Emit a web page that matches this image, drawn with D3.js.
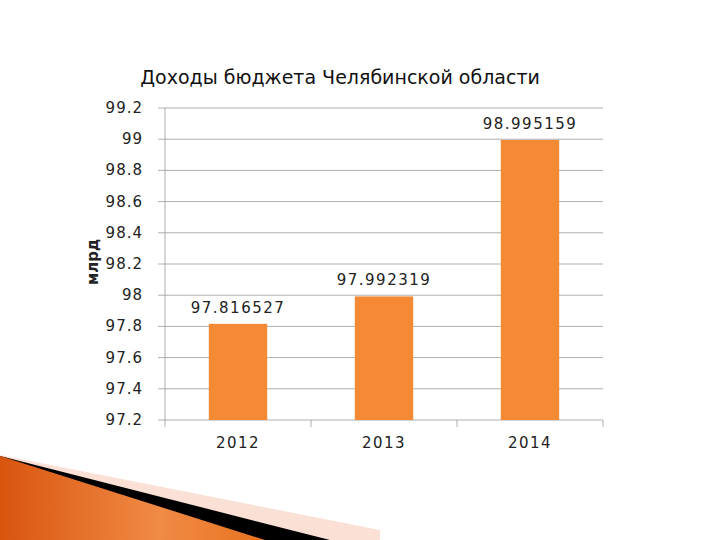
<!DOCTYPE html>
<html><head><meta charset="utf-8">
<script src="https://cdn.jsdelivr.net/npm/d3@7"></script>
<style>body{margin:0;background:#fff}svg{font-family:"DejaVu Sans",sans-serif}</style>
</head><body>
<script>
var years = ["2012", "2013", "2014"];
var income = [97.816527, 97.992319, 98.995159];
var yTicks = [97.2, 97.4, 97.6, 97.8, 98, 98.2, 98.4, 98.6, 98.8, 99, 99.2];

var svg = d3.select("body").append("svg").attr("width", 720).attr("height", 540);

// decoration bottom-left
var defs = svg.append("defs");
var g = defs.append("linearGradient").attr("id", "og").attr("x1", 0).attr("x2", 1);
g.append("stop").attr("offset", 0).attr("stop-color", "#d9550e");
g.append("stop").attr("offset", 0.6).attr("stop-color", "#f08a45");
g.append("stop").attr("offset", 1).attr("stop-color", "#e8731f");
svg.append("polygon").attr("points", "0,455 380,530 380,540 0,540").attr("fill", "#fbe0d6");
svg.append("polygon").attr("points", "0,456 330,540 0,540").attr("fill", "#000");
svg.append("polygon").attr("points", "0,456 265,540 0,540").attr("fill", "url(#og)");

var x = d3.scaleBand().domain(years).range([165, 603]).paddingInner(0.6).paddingOuter(0.3);
var y = d3.scaleLinear().domain([97.2, 99.2]).range([420, 108]);

svg.append("g").selectAll("line").data(yTicks).enter().append("line")
    .attr("x1", 158).attr("x2", 603)
    .attr("y1", function (d) { return y(d); }).attr("y2", function (d) { return y(d); })
    .attr("stroke", "#9a9a9a").attr("stroke-width", 0.8);
svg.append("line").attr("x1", 165).attr("x2", 165).attr("y1", 108).attr("y2", 420)
    .attr("stroke", "#9a9a9a").attr("stroke-width", 0.8);
svg.append("g").selectAll("line").data([165, 311, 457, 603]).enter().append("line")
    .attr("x1", function (d) { return d; }).attr("x2", function (d) { return d; })
    .attr("y1", 420).attr("y2", 427).attr("stroke", "#9a9a9a").attr("stroke-width", 0.8);

svg.append("g").selectAll("text").data(yTicks).enter().append("text")
    .attr("x", 143).attr("y", function (d) { return y(d) + 5; })
    .attr("text-anchor", "end").attr("font-size", 15).attr("letter-spacing", 1).attr("fill", "#222")
    .text(function (d) { return d3.format("")(+d.toFixed(1)); });

svg.append("g").selectAll("rect").data(income).enter().append("rect")
    .attr("x", function (d, i) { return x(years[i]); })
    .attr("width", x.bandwidth())
    .attr("y", function (d) { return y(d); })
    .attr("height", function (d) { return 420 - y(d); })
    .attr("fill", "#f58a35");

svg.append("g").selectAll("text").data(income).enter().append("text")
    .attr("x", function (d, i) { return x(years[i]) + x.bandwidth() / 2; })
    .attr("y", function (d) { return y(d) - 11; })
    .attr("text-anchor", "middle").attr("font-size", 15).attr("letter-spacing", 1.5).attr("fill", "#222")
    .text(function (d) { return d; });

svg.append("g").selectAll("text").data(years).enter().append("text")
    .attr("x", function (d) { return x(d) + x.bandwidth() / 2; })
    .attr("y", 448).attr("text-anchor", "middle").attr("font-size", 15).attr("letter-spacing", 1.5)
    .attr("fill", "#222").text(function (d) { return d; });

svg.append("text").attr("transform", "translate(98,262) rotate(-90)")
    .attr("text-anchor", "middle").attr("font-size", 15).attr("font-weight", "bold").attr("fill", "#222")
    .text("млрд");

svg.append("text").attr("x", 340).attr("y", 84).attr("text-anchor", "middle")
    .attr("font-size", 19).attr("fill", "#111").text("Доходы бюджета Челябинской области");
</script>
</body></html>
